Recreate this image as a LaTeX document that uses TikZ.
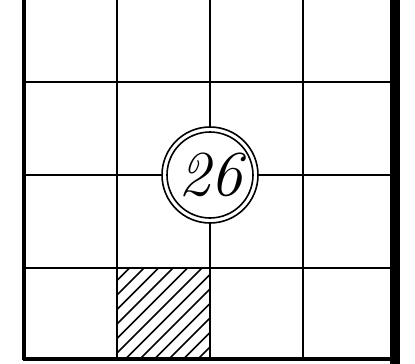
\documentclass[tikz,border=0pt]{standalone}
\begin{document}
\begin{tikzpicture}[x=0.75pt,y=-0.75pt,
  gridline/.style={line width=1.7pt},
  ring/.style={circle,draw,fill=white,line width=1.2pt,minimum size=#1}]
\useasboundingbox (0,0) rectangle (415,364);
% hatched cell
\begin{scope}
\clip (117,268) rectangle (210,359);
\foreach \k in {0,...,13}{
  \draw[line width=1.2pt] ({24+\k*14.5-10},{359+10}) -- ({24+\k*14.5+110},{359-110});
}
\end{scope}
% vertical lines
\draw[line width=2.3pt] (24,0) -- (24,360);
\foreach \x in {117,210,303}{
  \draw[gridline] (\x,0) -- (\x,359);
}
% horizontal lines
\foreach \y in {82,175,268}{
  \draw[gridline] (24,\y) -- (392,\y);
}
\draw[line width=2.3pt] (23,359) -- (392,359);
% thick right bar
\fill (390,0) rectangle (400,364);
% circle
\node[ring=96*0.75pt,inner sep=0pt] (c) at (210,175) {};
\node[ring=86*0.75pt,inner sep=0pt,font=\fontsize{48}{48}\selectfont\itshape] (n) at (c) {26};
\end{tikzpicture}
\end{document}
